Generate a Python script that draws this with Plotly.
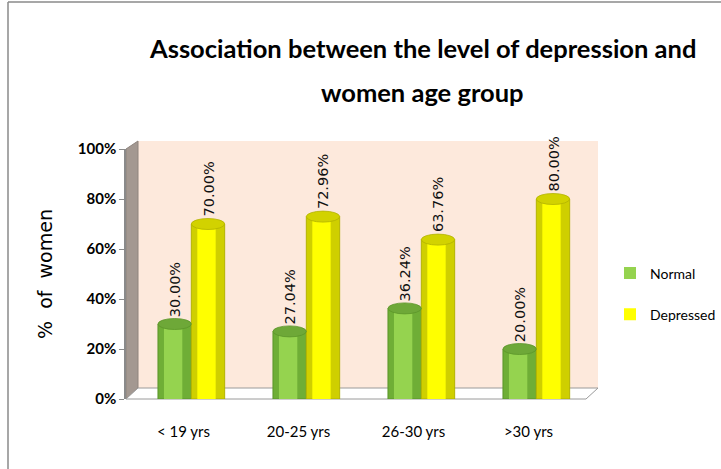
import plotly.graph_objects as go

categories = ["< 19 yrs", "20-25 yrs", "26-30 yrs", ">30 yrs"]
normal = [30.00, 27.04, 36.24, 20.00]
depressed = [70.00, 72.96, 63.76, 80.00]
series_names = ["Normal", "Depressed"]
y_ticks = [0, 20, 40, 60, 80, 100]
y_tick_labels = ["0%", "20%", "40%", "60%", "80%", "100%"]
title_lines = ["Association between the level of depression and", "women age group"]

W, H = 721, 469
L, R, T, B = 126, 721 - 586, 149, 469 - 399
PW, PH = W - L - R, H - T - B

def px(xp):
    return (xp - L) / PW

def py(yp):
    return (H - B - yp) / PH

FONT = "Lato, Liberation Sans, Arial"
BW = 0.29
offs = [-0.222, 0.068]
bases = ["#6FAE36", "#CFCF00"]
cores = ["#95D34F", "#FFFF00"]
edges = ["#5C962A", "#B3B300"]
caps = ["#6EA838", "#D2D200"]

fig = go.Figure()
xs = list(range(len(categories)))
all_vals = [normal, depressed]
for k, (name, vals) in enumerate(zip(series_names, all_vals)):
    fig.add_trace(go.Bar(
        x=xs, y=vals, name=name, width=BW, offset=offs[k], showlegend=False,
        marker=dict(color=bases[k], line=dict(color=edges[k], width=1)),
        legendgroup=name, hoverinfo="skip",
    ))
for k, (name, vals) in enumerate(zip(series_names, all_vals)):
    fig.add_trace(go.Bar(
        x=xs, y=vals, name=name, width=BW * 0.55, offset=offs[k] + BW * 0.18,
        marker=dict(color=cores[k], line=dict(width=0)),
        legendgroup=name,
    ))

shapes = []
shapes.append(dict(type="rect", xref="paper", yref="paper", x0=px(138), x1=px(598), y0=py(388), y1=py(141),
                   fillcolor="#FDE9DC", line=dict(width=0), layer="below"))
shapes.append(dict(type="path", xref="paper", yref="paper",
                   path=f"M {px(126)},{py(149)} L {px(138)},{py(141)} L {px(138)},{py(388)} L {px(126)},{py(399)} Z",
                   fillcolor="#A39891", line=dict(color="#8E847D", width=1), layer="below"))
shapes.append(dict(type="path", xref="paper", yref="paper",
                   path=f"M {px(126)},{py(399)} L {px(138)},{py(388)} L {px(598)},{py(388)} L {px(586)},{py(399)} Z",
                   fillcolor="#FFFFFF", line=dict(color="#9A9A9A", width=1), layer="below"))
shapes.append(dict(type="line", xref="paper", yref="paper", x0=px(8), x1=px(721), y0=py(2), y1=py(2),
                   line=dict(color="#8A8A8A", width=1.5)))
shapes.append(dict(type="line", xref="paper", yref="paper", x0=px(8), x1=px(8), y0=py(2), y1=py(469),
                   line=dict(color="#8A8A8A", width=1.5)))

cap_h = 2.2
for k, vals in enumerate(all_vals):
    for i, v in enumerate(vals):
        x0 = i + offs[k]
        shapes.append(dict(type="circle", xref="x", yref="y", x0=x0, x1=x0 + BW, y0=v - cap_h, y1=v + cap_h,
                           fillcolor=caps[k], line=dict(color=edges[k], width=0.8), layer="above"))

annotations = []
for k, vals in enumerate(all_vals):
    for i, v in enumerate(vals):
        annotations.append(dict(x=i + offs[k] + BW / 2, y=v, xref="x", yref="y", text=f"{v:.2f}%",
                                textangle=-90, showarrow=False, xanchor="center", yanchor="bottom", yshift=5,
                                font=dict(family="DejaVu Sans", size=14.5, color="#111111")))

for j, line in enumerate(title_lines):
    annotations.append(dict(x=px(422), y=py([48, 92][j]), xref="paper", yref="paper", text=f"<b>{line}</b>",
                            showarrow=False, xanchor="center", yanchor="middle",
                            font=dict(family=FONT, size=25.5, color="#000000")))

fig.update_layout(
    width=W, height=H,
    margin=dict(l=L, r=R, t=T, b=B, autoexpand=False),
    paper_bgcolor="white", plot_bgcolor="rgba(0,0,0,0)",
    barmode="overlay",
    showlegend=True,
    legend=dict(x=px(610), y=py(294), xanchor="left", yanchor="middle", tracegroupgap=20,
                font=dict(family=FONT, size=14, color="#000000"), itemwidth=30,
                bgcolor="rgba(0,0,0,0)"),
    shapes=shapes, annotations=annotations,
    xaxis=dict(tickmode="array", tickvals=xs, ticktext=categories, range=[-0.5, len(categories) - 0.5],
               showgrid=False, showline=False, ticks="", ticklabelstandoff=22,
               tickfont=dict(family=FONT, size=15, color="#000000"), zeroline=False),
    yaxis=dict(range=[0, 100], tickvals=y_ticks, ticktext=[f"<b>{t}</b>" for t in y_tick_labels], showgrid=False,
               showline=True, linecolor="#8A8A8A", linewidth=1.5, ticks="outside", ticklen=5,
               tickcolor="#8A8A8A", zeroline=False,
               tickfont=dict(family=FONT, size=15, color="#000000"),
               title=dict(text="%  of  women", standoff=20,
                          font=dict(family="DejaVu Sans", size=19, color="#000000"))),
)

fig.write_html("out.html")
